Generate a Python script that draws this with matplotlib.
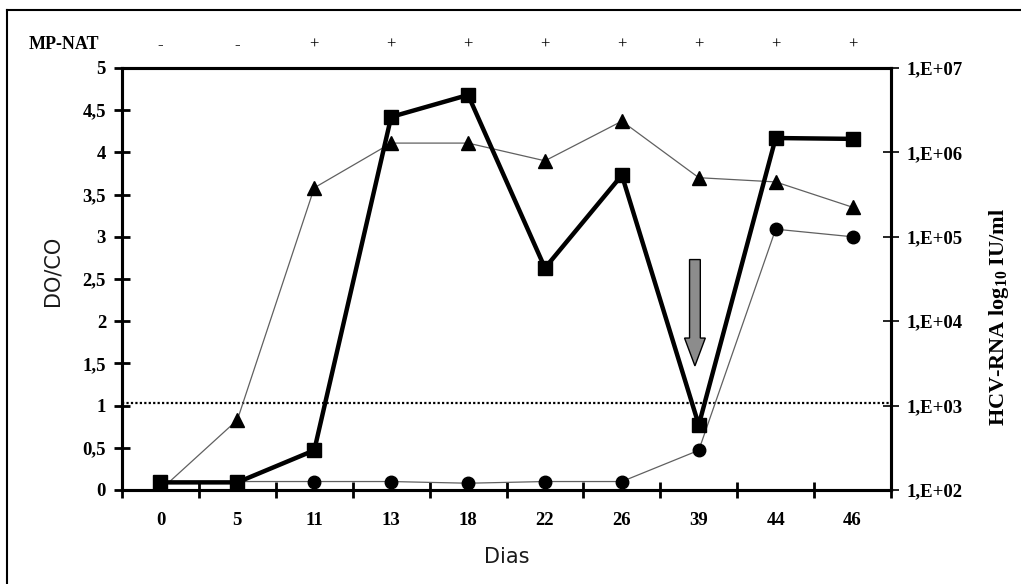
import numpy as np
import matplotlib.pyplot as plt
from matplotlib.patches import FancyArrow
from matplotlib.lines import Line2D

# data
dias = ["0", "5", "11", "13", "18", "22", "26", "39", "44", "46"]
mp_nat = ["-", "-", "+", "+", "+", "+", "+", "+", "+", "+"]
rna_squares = [0.09, 0.09, 0.47, 4.42, 4.68, 2.63, 3.73, 0.77, 4.17, 4.16]
do_triangles = [0.0, 0.83, 3.58, 4.11, 4.11, 3.90, 4.37, 3.70, 3.65, 3.35]
do_circles = [0.1, 0.1, 0.1, 0.1, 0.08, 0.1, 0.1, 0.47, 3.09, 3.00]
cutoff = 1.03
left_ticks = [0, 0.5, 1, 1.5, 2, 2.5, 3, 3.5, 4, 4.5, 5]
left_labels = ["0", "0,5", "1", "1,5", "2", "2,5", "3", "3,5", "4", "4,5", "5"]
right_ticks = [1e2, 1e3, 1e4, 1e5, 1e6, 1e7]
right_labels = ["1,E+02", "1,E+03", "1,E+04", "1,E+05", "1,E+06", "1,E+07"]

SERIF = "Liberation Serif"
SANS = "DejaVu Sans"
TICK_FS = 13.5

plt.rcParams["mathtext.fontset"] = "custom"
plt.rcParams["mathtext.rm"] = "Liberation Serif:bold"
plt.rcParams["mathtext.bf"] = "Liberation Serif:bold"

fig = plt.figure(figsize=(10.21, 5.84), dpi=100)
ax = fig.add_axes([0.1195, 0.161, 0.7532, 0.7226])
x = np.arange(len(dias))

ax.plot(x, do_triangles, color="#606060", lw=0.9, marker="^", ms=10,
        mfc="black", mec="black", zorder=3)
ax.plot(x, do_circles, color="#606060", lw=0.9, marker="o", ms=9,
        mfc="black", mec="black", zorder=3)
ax.plot(x, rna_squares, color="black", lw=3.2, marker="s", ms=10.5,
        mfc="black", mec="black", zorder=4)
ax.axhline(cutoff, color="black", lw=1.6, ls=(0, (1, 1)), zorder=2)

# arrow at day 39
ax.add_patch(FancyArrow(6.95, 2.73, 0, -1.26, width=0.14, head_width=0.27,
                        head_length=0.33, length_includes_head=True,
                        fc="#8c8c8c", ec="black", lw=1, zorder=5))

ax.set_xlim(-0.5, len(dias) - 0.5)
ax.set_ylim(0, 5)
ax.set_xticks(np.arange(-0.5, len(dias)))
ax.set_xticklabels([])
ax.set_xticks(x, minor=True)
ax.set_xticklabels(dias, minor=True)
ax.tick_params(axis="x", which="major", direction="inout", length=11, width=2)
ax.tick_params(axis="x", which="minor", length=0, pad=16)
ax.set_yticks(left_ticks)
ax.set_yticklabels(left_labels)
ax.tick_params(axis="y", direction="inout", length=11, width=2, pad=6)
for lab in ax.get_xticklabels(minor=True) + ax.get_yticklabels():
    lab.set_fontfamily(SERIF)
    lab.set_fontweight("bold")
    lab.set_fontsize(TICK_FS)
for s in ax.spines.values():
    s.set_linewidth(2.2)

ax2 = ax.twinx()
ax2.set_yscale("log")
ax2.set_ylim(1e2, 1e7)
ax2.set_yticks(right_ticks)
ax2.set_yticklabels(right_labels)
ax2.yaxis.set_minor_locator(plt.NullLocator())
ax2.tick_params(axis="y", direction="inout", length=11, width=1.2, pad=6)
for lab in ax2.get_yticklabels():
    lab.set_fontfamily(SERIF)
    lab.set_fontweight("bold")
    lab.set_fontsize(TICK_FS)
for s in ax2.spines.values():
    s.set_linewidth(2.2)

ax.set_ylabel("DO/CO", family=SANS, fontsize=15, color="#1a1a1a")
ax.yaxis.set_label_coords(-0.078, 0.52)
ax.set_xlabel("Dias", family=SANS, fontsize=15, color="#1a1a1a", labelpad=13)
fig.text(0.978, 0.457, r"HCV-RNA log$_{\mathrm{10}}$ IU/ml", rotation=90,
         family=SERIF, fontweight="bold", fontsize=16, ha="center", va="center")

# MP-NAT row above the plot
fig.text(0.028, 0.923, "MP-NAT", family=SERIF, fontweight="bold", fontsize=13,
         va="center")
for i, s in enumerate(mp_nat):
    xf = ax.transData.transform((i, 0))[0] / fig.bbox.width
    fig.text(xf, 0.923, s, family=SERIF, fontsize=12, ha="center", va="center")

# frame around the figure (top and left visible)
fig.add_artist(Line2D([0.007, 0.007], [0.0, 0.983], color="black", lw=1.5))
fig.add_artist(Line2D([0.007, 1.0], [0.983, 0.983], color="black", lw=1.5))

fig.savefig("out.png", dpi=100)
